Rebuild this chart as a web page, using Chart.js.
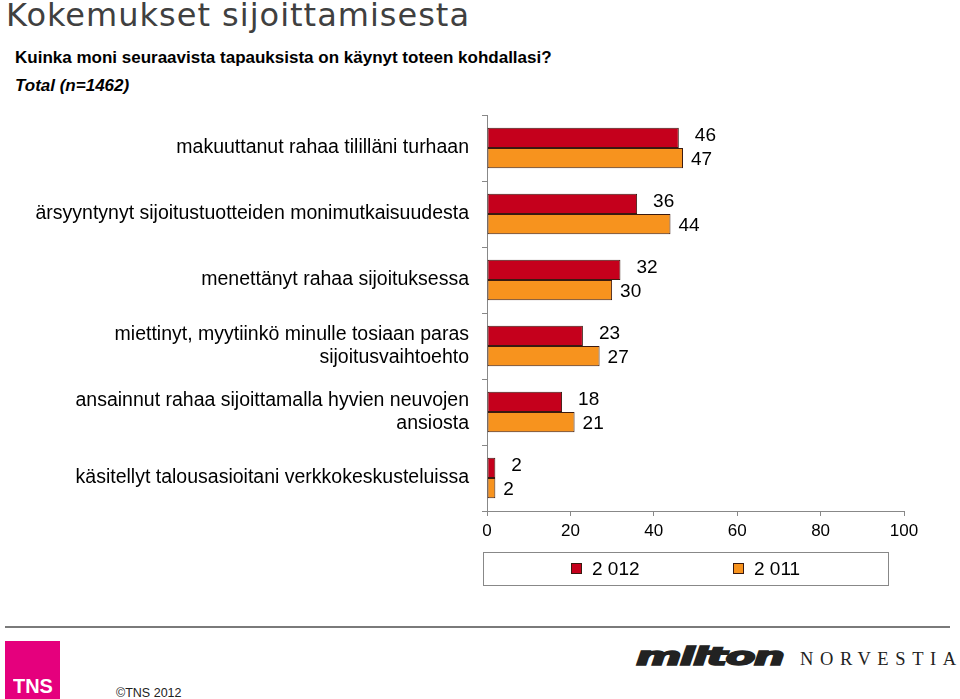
<!DOCTYPE html>
<html><head><meta charset="utf-8">
<script src="https://cdn.jsdelivr.net/npm/chart.js@4"></script>
<style>
body{margin:0;background:#fff;width:960px;height:699px;overflow:hidden;position:relative;font-family:"Liberation Sans",Arial,sans-serif}
#title{position:absolute;left:6px;top:-4px;font-family:"DejaVu Sans",sans-serif;font-size:32px;letter-spacing:1px;color:#404040;white-space:nowrap}
#sub{position:absolute;left:15px;top:48px;font-size:17px;font-weight:bold;color:#000;white-space:nowrap}
#tot{position:absolute;left:15px;top:76px;font-size:17px;font-weight:bold;font-style:italic;color:#000}
#wrap{position:absolute;left:0;top:0;width:960px;height:560px}
#legend{position:absolute;left:483px;top:552px;width:406px;height:34px;border:1px solid #888;box-sizing:border-box}
.li{position:absolute;top:5px;font-size:19px;color:#000;white-space:nowrap}
.sw{display:inline-block;width:9px;height:9px;border:1px solid #3a1a10;margin-right:10px;vertical-align:1px}
#hr{position:absolute;left:5px;top:626px;width:945px;height:2px;background:#7a7a7a}
#tns{position:absolute;left:5px;top:641px;width:55px;height:58px;background:#E5007D}
#tns span{position:absolute;left:8px;bottom:3px;color:#fff;font-weight:bold;font-size:21px;line-height:21px;font-family:"Liberation Sans",sans-serif;transform:scaleX(0.95);transform-origin:left}
#copy{position:absolute;left:116px;top:686px;font-size:12.5px;color:#222;font-family:"Liberation Sans",sans-serif}
#milt{position:absolute;left:636px;top:642px;font-size:25px;font-weight:900;font-style:italic;font-family:"DejaVu Sans",sans-serif;color:#222;letter-spacing:-1px;-webkit-text-stroke:1.6px #222;transform:scaleX(1.75);transform-origin:left;line-height:30px}
#norv{position:absolute;left:800px;top:648px;font-size:18.5px;font-family:"Liberation Serif",serif;color:#222;letter-spacing:6.6px;line-height:22px}
</style></head><body>
<div id="title">Kokemukset sijoittamisesta</div>
<div id="sub">Kuinka moni seuraavista tapauksista on käynyt toteen kohdallasi?</div>
<div id="tot">Total (n=1462)</div>
<div id="wrap"><canvas id="c" width="960" height="560"></canvas></div>
<div id="legend"></div>
<div id="hr"></div>
<div id="tns"><span>TNS</span></div>
<div id="copy">©TNS 2012</div>
<div id="milt">milton</div>
<div id="norv">NORVESTIA</div>
<script>
const categories = [
  "makuuttanut rahaa tililläni turhaan",
  "ärsyyntynyt sijoitustuotteiden monimutkaisuudesta",
  "menettänyt rahaa sijoituksessa",
  ["miettinyt, myytiinkö minulle tosiaan paras", "sijoitusvaihtoehto"],
  ["ansainnut rahaa sijoittamalla hyvien neuvojen", "ansiosta"],
  "käsitellyt talousasioitani verkkokeskusteluissa"
];
const seriesNames = ["2 012", "2 011"];
const values2012 = [46, 36, 32, 23, 18, 2];
const values2011 = [47, 44, 30, 27, 21, 2];
const xTicks = [0, 20, 40, 60, 80, 100];

const colors = ["#C5001C", "#F7931E"];
const border = "#3a1a10";

const labelPlugin = {
  id: 'vlabels',
  afterDatasetsDraw(chart) {
    const ctx = chart.ctx;
    ctx.save();
    ctx.font = '19px "Liberation Sans", Arial, sans-serif';
    ctx.fillStyle = '#000';
    ctx.textBaseline = 'middle';
    chart.data.datasets.forEach((ds, di) => {
      const meta = chart.getDatasetMeta(di);
      meta.data.forEach((bar, i) => {
        const dx = di === 0 ? 16 : 8;
        const dy = di === 0 ? -2 : 2;
        ctx.fillText(String(ds.data[i]), bar.x + dx, bar.y + dy);
      });
    });
    ctx.restore();
  }
};

new Chart(document.getElementById('c'), {
  type: 'bar',
  data: {
    labels: categories,
    datasets: [
      {label: seriesNames[0], data: values2012, backgroundColor: colors[0], borderColor: border, borderWidth: 1, borderSkipped: false},
      {label: seriesNames[1], data: values2011, backgroundColor: colors[1], borderColor: border, borderWidth: 1, borderSkipped: false}
    ]
  },
  options: {
    indexAxis: 'y',
    responsive: false,
    animation: false,
    events: [],
    layout: {padding: {top: 115, right: 56, left: 0, bottom: 0}},
    datasets: {bar: {categoryPercentage: 0.61, barPercentage: 1.0}},
    plugins: {legend: {display: false}, tooltip: {enabled: false}},
    scales: {
      x: {
        min: 0, max: 100,
        afterBuildTicks: s => { s.ticks = xTicks.map(v => ({value: v})); },
        afterFit: s => { s.height = 49; },
        grid: {drawOnChartArea: false, tickLength: 5, color: '#888'},
        border: {color: '#888', width: 1},
        ticks: {color: '#000', padding: 5, font: {size: 17, family: '"Liberation Sans", Arial, sans-serif'}}
      },
      y: {
        afterFit: s => { s.width = 487; },
        grid: {drawOnChartArea: false, tickLength: 5, color: '#888', offset: true},
        border: {color: '#888', width: 1},
        ticks: {color: '#000', padding: 13, font: {size: 19.5, family: '"Liberation Sans", Arial, sans-serif', lineHeight: 1.15}}
      }
    }
  },
  plugins: [labelPlugin]
});

const lg = document.getElementById('legend');
const pos = [87, 249];
seriesNames.forEach((n, i) => {
  const d = document.createElement('div');
  d.className = 'li';
  d.style.left = pos[i] + 'px';
  d.innerHTML = '<span class="sw" style="background:' + colors[i] + '"></span>' + n;
  lg.appendChild(d);
});
</script>
</body></html>
